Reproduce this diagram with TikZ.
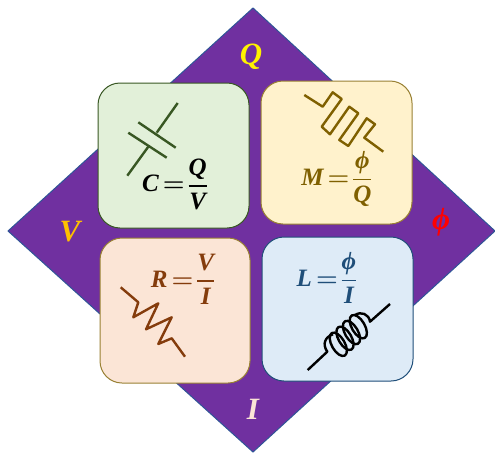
\documentclass[tikz,border=0pt]{standalone}
\usepackage{amsmath,amssymb}
\usepackage{fontspec}
\setmainfont{Liberation Serif}
\usepackage{xcolor}
\definecolor{diamondfill}{HTML}{7030A0}
\definecolor{diamondedge}{HTML}{2F5597}
\definecolor{capfill}{HTML}{E2F0D9}
\definecolor{capline}{HTML}{385723}
\definecolor{memfill}{HTML}{FFF2CC}
\definecolor{memline}{HTML}{7F6000}
\definecolor{resfill}{HTML}{FBE5D6}
\definecolor{resline}{HTML}{843C0C}
\definecolor{indfill}{HTML}{DEEBF7}
\definecolor{indline}{HTML}{1F4E79}
\definecolor{varorange}{HTML}{FFC000}
\newcommand{\vsym}[1]{\text{\bfseries\itshape #1}}
\newcommand{\eqfrac}[3]{$\displaystyle\vsym{#1}\mkern-2mu\mathrel{\boldsymbol{=}}\mkern-3mu{\vsym{#2}\above 1.6pt\vsym{#3}}$}
\tikzset{
  cardbox/.style={draw,line width=1pt,rounded corners=22pt},
  symline/.style={line width=2.4pt,line join=round},
  eqlabel/.style={font=\fontsize{25}{29}\selectfont},
  varlabel/.style={font=\fontsize{31}{35}\selectfont\bfseries\itshape}
}
\begin{document}
\begin{tikzpicture}[x=1pt,y=-1pt]
\useasboundingbox (0,0) rectangle (495,455);
\draw[diamondedge,fill=diamondfill,line width=1pt] (253,8) -- (495,231) -- (253,452) -- (8,231) -- cycle;
\draw[cardbox,capline,fill=capfill] (98,83) rectangle (249,228);
\draw[cardbox,memline!80!white,fill=memfill] (261,81) rectangle (412,224);
\draw[cardbox,memline!80!white,fill=resfill] (100,238) rectangle (250,383);
\draw[cardbox,indline,fill=indfill] (262,237) rectangle (413,381);
\node[varlabel,text=yellow] (varQ) at (251,57) {Q};
\node[varlabel,text=varorange] (varV) at (70,232) {V};
\node[varlabel,text=red] (varPhi) at (441,222) {ϕ};
\node[varlabel,text=resfill] (varI) at (253,409) {I};
\node[eqlabel,text=black] (eqC) at (175,184) {\eqfrac{C}{Q}{V}};
\node[eqlabel,text=memline] (eqM) at (337,179) {\eqfrac{M}{ϕ}{Q}};
\node[eqlabel,text=resline] (eqR) at (183,279) {\eqfrac{R}{V}{I}};
\node[eqlabel,text=indline] (eqL) at (327,278) {\eqfrac{L}{ϕ}{I}};
\draw[symline,capline] (177.7,103) -- (156.7,132.7);
\draw[symline,capline] (138.3,122.3) -- (175.7,147.7);
\draw[symline,capline] (128.3,132.7) -- (166.7,157.7);
\draw[symline,capline] (148.3,146.7) -- (127.3,175.7);
\draw[symline,memline] (304.3,95) -- (322.7,106.7) -- (332.7,92.3) -- (341.7,99) -- (321.7,126.7) -- (330,134.3) -- (349.3,106.7) -- (358.3,113.3) -- (339.3,140) -- (348.3,146) -- (366.7,118.3) -- (375,124.3) -- (364.3,137.7) -- (383.3,151.7);
\draw[symline,resline] (120.7,287.3) -- (138.3,302.3) -- (133.3,317.3) -- (158.3,303.3) -- (146,329.3) -- (171.7,317.3) -- (158.3,344) -- (171.7,338.3) -- (185,356.7);
\draw[symline,black] (307.7,370) -- (327.3,351.7) .. controls (322,344) and (325,337) .. (333,334.3);
\draw[symline,black] (355,315) .. controls (361,311) and (369,314) .. (370,321.7) -- (390,304);
\foreach \cx/\cy in {338.3/344.3,345/338.3,351.5/332.5,358.3/326.7}
  \draw[symline,black,shift={(\cx,\cy)},rotate=-60] (0,0) ellipse (13pt and 6.5pt);
\end{tikzpicture}
\end{document}
